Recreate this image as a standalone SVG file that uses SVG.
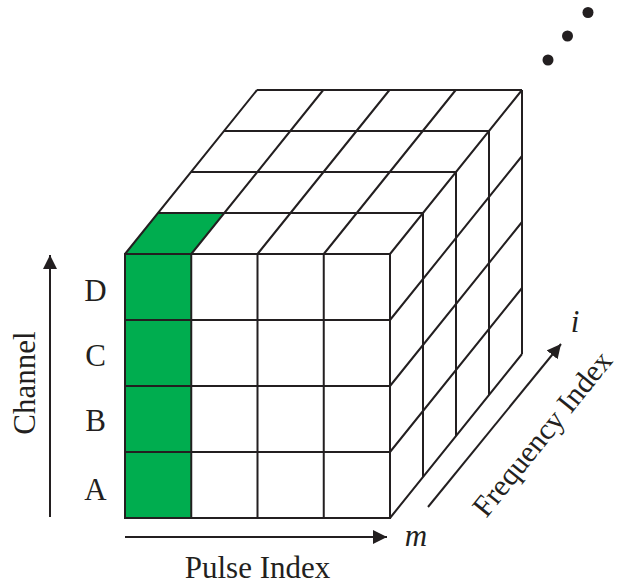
<svg xmlns="http://www.w3.org/2000/svg" width="621" height="584" viewBox="0 0 621 584">
<style>
.g{stroke:#231f20;stroke-width:2;fill:none;stroke-linejoin:miter}
.fill{fill:#00ad4f}
text{font-family:'Liberation Serif','Times New Roman','DejaVu Serif',serif;font-size:31px;fill:#231f20}
.it{font-style:italic}
.ax{stroke:#231f20;stroke-width:2;fill:none}
</style>
<defs>
<marker id="ah" markerUnits="userSpaceOnUse" markerWidth="16" markerHeight="14" refX="14" refY="7" orient="auto">
<path d="M0,0 L14,7 L0,14 Z" fill="#231f20"/>
</marker>
</defs>
<rect width="621" height="584" fill="#ffffff"/>
<g id="cube">
<g id="green-cells">
<rect class="fill" x="125" y="254" width="66.25" height="264"/>
<polygon class="fill" points="125,254 191.25,254 224.25,213 158,213"/>
</g>
<g id="front-face" class="g">
<rect x="125" y="254" width="265" height="264"/>
<path d="M125,320H390M125,386H390M125,452H390"/>
<path d="M191.25,254V518M257.5,254V518M323.75,254V518"/>
</g>
<g id="top-face" class="g">
<path d="M158,213H423M191,172H456M224,131H489M257,90H522"/>
<path d="M125,254L257,90M191.25,254L323.25,90M257.5,254L389.5,90M323.75,254L455.75,90M390,254L522,90"/>
</g>
<g id="right-face" class="g">
<path d="M423,213V477M456,172V436M489,131V395M522,90V354"/>
<path d="M390,320L522,156M390,386L522,222M390,452L522,288M390,518L522,354"/>
</g>
</g>
<g id="connectors">
<line class="ax" x1="50" y1="517" x2="50" y2="255" marker-end="url(#ah)"/>
<line class="ax" x1="125" y1="537" x2="387" y2="537" marker-end="url(#ah)"/>
<line class="ax" x1="428" y1="507" x2="561" y2="344" marker-end="url(#ah)"/>
</g>
<g id="labels">
<text font-family="Liberation Serif, serif" x="95.5" y="301" text-anchor="middle">D</text>
<text font-family="Liberation Serif, serif" x="95.5" y="366" text-anchor="middle">C</text>
<text font-family="Liberation Serif, serif" x="95.5" y="431" text-anchor="middle">B</text>
<text font-family="Liberation Serif, serif" x="95.5" y="500" text-anchor="middle">A</text>
<text font-family="Liberation Serif, serif" x="35" y="383" text-anchor="middle" transform="rotate(-90 35 383)">Channel</text>
<text font-family="Liberation Serif, serif" x="257.5" y="578" text-anchor="middle">Pulse Index</text>
<text font-family="Liberation Serif, serif" class="it" x="416" y="546" text-anchor="middle">m</text>
<text font-family="Liberation Serif, serif" class="it" x="575" y="332" text-anchor="middle">i</text>
<text font-family="Liberation Serif, serif" x="550" y="440" font-size="30" text-anchor="middle" transform="rotate(-51 550 440)" style="font-size:30px">Frequency Index</text>
</g>
<g id="dots" fill="#231f20">
<circle cx="548" cy="60" r="5.5"/>
<circle cx="567.5" cy="36" r="5.5"/>
<circle cx="588" cy="12.5" r="5.5"/>
</g>
</svg>
